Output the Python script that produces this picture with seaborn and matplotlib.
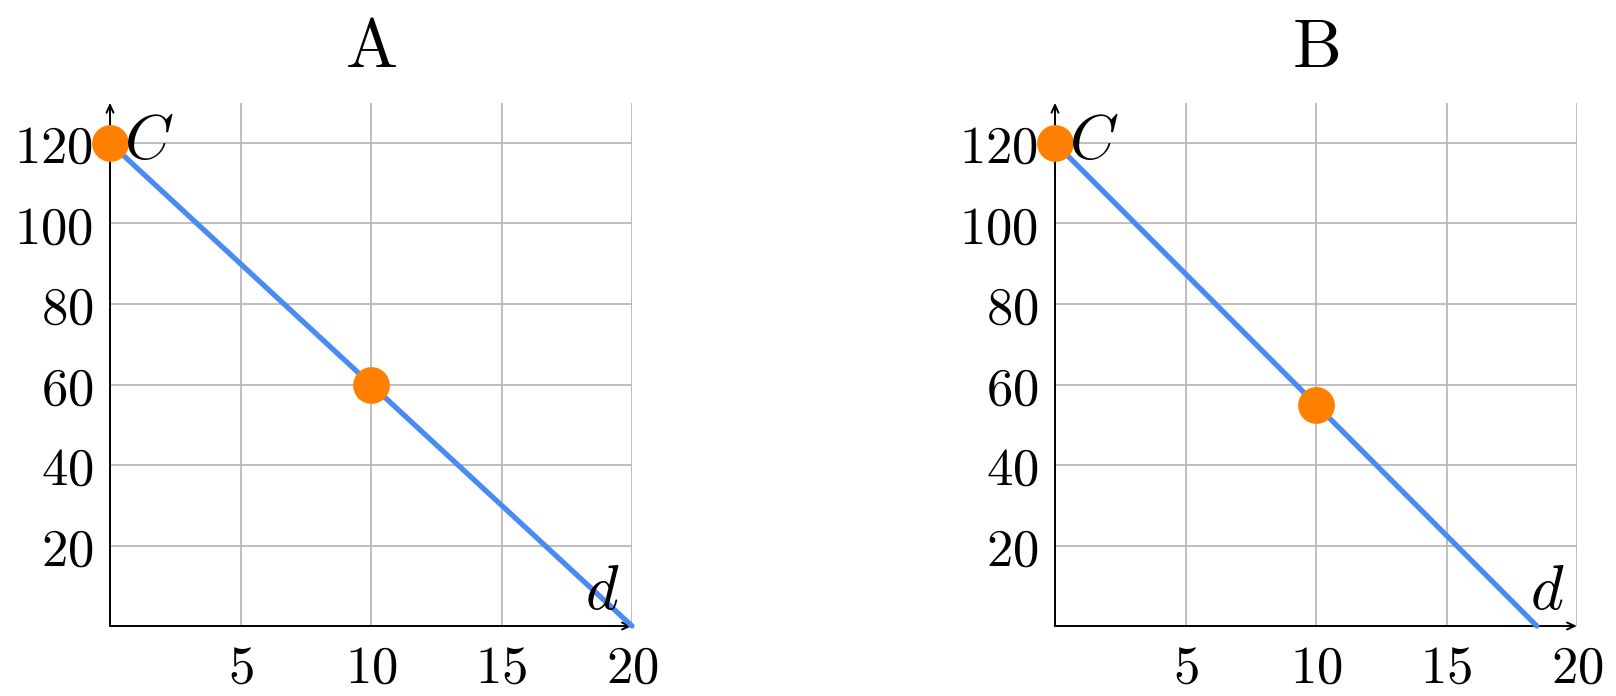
import matplotlib
matplotlib.use("Agg")
import matplotlib.pyplot as plt
import seaborn as sns
import pandas as pd

sns.set_style("white")
plt.rcParams["mathtext.fontset"] = "cm"
plt.rcParams["font.family"] = ["DejaVu Serif"]
plt.rcParams["text.color"] = "black"
plt.rcParams["xtick.labelcolor"] = "black"
plt.rcParams["ytick.labelcolor"] = "black"

panels = ["A", "B"]
line_x = {"A": [0, 20], "B": [0, 18.46]}
line_y = {"A": [120, 0], "B": [120, 0]}
point_x = {"A": [0, 10], "B": [0, 10]}
point_y = {"A": [120, 60], "B": [120, 55]}
xticks = [5, 10, 15, 20]
yticks = [20, 40, 60, 80, 100, 120]
point_label = "C"
axis_label = "d"

fig = plt.figure(figsize=(16.16, 6.96), dpi=100)
lefts = [110 / 1616, 1055 / 1616]
width = 522 / 1616
bottom = 70 / 696
height = (626 - 102.75) / 696

blue = "#4a8af4"
orange = "#ff8000"
grid_c = "#b9b9b9"

for p, left in zip(panels, lefts):
    ax = fig.add_axes([left, bottom, width, height])
    ax.set_xlim(0, 20)
    ax.set_ylim(0, 130)
    for s in ax.spines.values():
        s.set_visible(False)
    for v in xticks:
        ax.axvline(v, color=grid_c, lw=1.3, zorder=0)
    for v in yticks:
        ax.axhline(v, color=grid_c, lw=1.3, zorder=0)
    ax.set_xticks(xticks, labels=[f"${v}$" for v in xticks])
    ax.set_yticks(yticks, labels=[f"${v}$" for v in yticks])
    ax.tick_params(axis="both", direction="inout", length=10, width=1.2,
                   color="#555555", labelsize=38, pad=7, labelcolor="black")
    for xy in [(1.0, 0), (0, 1.0)]:
        ax.annotate("", xy=xy, xytext=(0, 0), xycoords="axes fraction",
                    arrowprops=dict(arrowstyle="->,head_length=0.55,head_width=0.25",
                                    lw=1.4, color="black", shrinkA=0, shrinkB=0))
    ldf = pd.DataFrame({"x": line_x[p], "y": line_y[p]})
    sns.lineplot(data=ldf, x="x", y="y", ax=ax, color=blue, lw=3.8,
                 clip_on=False, zorder=3, sort=False)
    pdf = pd.DataFrame({"x": point_x[p], "y": point_y[p]})
    sns.scatterplot(data=pdf, x="x", y="y", ax=ax, color=orange, s=700,
                    linewidth=0, clip_on=False, zorder=4)
    ax.set_xlabel("")
    ax.set_ylabel("")
    ax.text(0.55, 120.5, f"${point_label}$", fontsize=45, ha="left", va="center",
            color="black", zorder=5)
    ax.text(18.85, 8.5, f"${axis_label}$", fontsize=45, ha="center", va="center",
            color="black", zorder=5)
    ax.set_title(rf"$\mathrm{{{p}}}$", fontsize=50, pad=26, color="black")

fig.savefig("out.png", dpi=100)
